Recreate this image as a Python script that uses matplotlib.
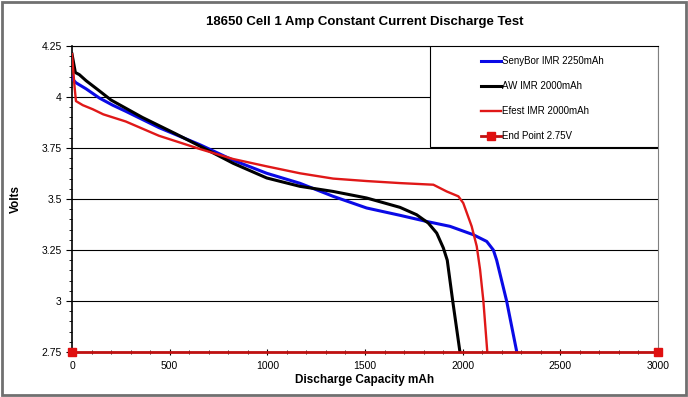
import numpy as np
import matplotlib.pyplot as plt
from matplotlib.patches import Rectangle
from matplotlib.ticker import MultipleLocator

plt.rcParams["font.family"] = ["Liberation Sans", "DejaVu Sans"]

# discharge capacity (mAh) vs voltage
senybor_mah = [0, 10, 20, 72, 140, 208, 275, 445, 655, 825, 997, 1167, 1337,
               1508, 1679, 1815, 1935, 2054, 2123, 2157, 2174, 2225, 2277]
senybor_v = [4.10, 4.08, 4.07, 4.04, 3.995, 3.96, 3.93, 3.85, 3.766, 3.69,
             3.626, 3.577, 3.513, 3.456, 3.42, 3.39, 3.366, 3.325, 3.292,
             3.25, 3.20, 3.00, 2.75]

aw_mah = [0, 17, 37, 72, 140, 200, 360, 530, 700, 825, 997, 1167, 1337, 1508,
          1679, 1764, 1824, 1867, 1901, 1921, 1949, 1986]
aw_v = [4.21, 4.12, 4.11, 4.08, 4.03, 3.985, 3.90, 3.82, 3.737, 3.675, 3.603,
        3.562, 3.537, 3.505, 3.459, 3.423, 3.382, 3.333, 3.26, 3.20, 3.00, 2.75]

efest_mah = [0, 12, 20, 55, 106, 160, 275, 445, 655, 825, 997, 1167, 1337,
             1508, 1679, 1850, 1918, 1978, 2003, 2046, 2072, 2089, 2106, 2126]
efest_v = [4.21, 4.06, 3.98, 3.96, 3.94, 3.915, 3.88, 3.81, 3.745, 3.696,
           3.66, 3.626, 3.60, 3.588, 3.578, 3.570, 3.537, 3.513, 3.48, 3.366,
           3.268, 3.154, 3.00, 2.75]

end_mah = [0, 3000]
end_v = [2.75, 2.75]

labels = ["SenyBor IMR 2250mAh", "AW IMR 2000mAh", "Efest IMR 2000mAh",
          "End Point 2.75V"]

fig = plt.figure(figsize=(6.88, 3.97), dpi=100)
ax = fig.add_axes([0.1047, 0.1134, 0.8517, 0.7707])

ax.plot(senybor_mah, senybor_v, color="#0a0ae6", lw=2.2, label=labels[0],
        zorder=3)
ax.plot(aw_mah, aw_v, color="black", lw=2.2, label=labels[1], zorder=3)
ax.plot(efest_mah, efest_v, color="#e01818", lw=1.7, label=labels[2],
        zorder=4)
ax.plot(end_mah, end_v, color="#c01010", lw=2, marker="s", ms=6,
        mfc="#e01010", mec="#e01010", label=labels[3], zorder=6,
        clip_on=False)

ax.set_xlim(0, 3000)
ax.set_ylim(2.75, 4.25)
ax.xaxis.set_major_locator(MultipleLocator(500))
ax.xaxis.set_minor_locator(MultipleLocator(100))
ax.yaxis.set_major_locator(MultipleLocator(0.25))
ax.yaxis.set_minor_locator(MultipleLocator(0.05))
ax.set_yticks([2.75, 3, 3.25, 3.5, 3.75, 4, 4.25])
ax.set_yticklabels(["2.75", "3", "3.25", "3.5", "3.75", "4", "4.25"])

ax.grid(axis="y", which="major", color="black", lw=0.8)
ax.set_axisbelow(True)
ax.tick_params(axis="x", which="major", direction="inout", length=5,
               labelsize=7.5, pad=4)
ax.tick_params(axis="x", which="minor", direction="inout", length=3)
ax.tick_params(axis="y", which="major", direction="out", length=4,
               labelsize=7.5)
ax.tick_params(axis="y", which="minor", direction="out", length=2.5)

ax.spines["right"].set_color("#808080")
ax.spines["top"].set_color("black")
ax.spines["left"].set_linewidth(1.2)

ax.set_xlabel("Discharge Capacity mAh", fontsize=8.5, fontweight="bold",
              labelpad=2)
ax.set_ylabel("Volts", fontsize=8.5, fontweight="bold", labelpad=14)
fig.text(0.53, 0.945, "18650 Cell 1 Amp Constant Current Discharge Test",
         ha="center", va="center", fontsize=9.5, fontweight="bold")

# legend box in the upper right corner of the plot
ax.add_patch(Rectangle((0.611, 0.670), 0.389, 0.330, transform=ax.transAxes,
                       facecolor="white", edgecolor="black", lw=0.8,
                       zorder=7))
leg = ax.legend(loc="center left", bbox_to_anchor=(0.69, 0.828),
                frameon=False, fontsize=7, handlelength=2.0,
                handletextpad=0.15, labelspacing=1.55, borderpad=0)
leg.set_zorder(8)

fig.add_artist(Rectangle((0.003, 0.005), 0.994, 0.99,
                         transform=fig.transFigure, fill=False,
                         edgecolor="#707070", lw=2))

fig.savefig("out.png", dpi=100)
